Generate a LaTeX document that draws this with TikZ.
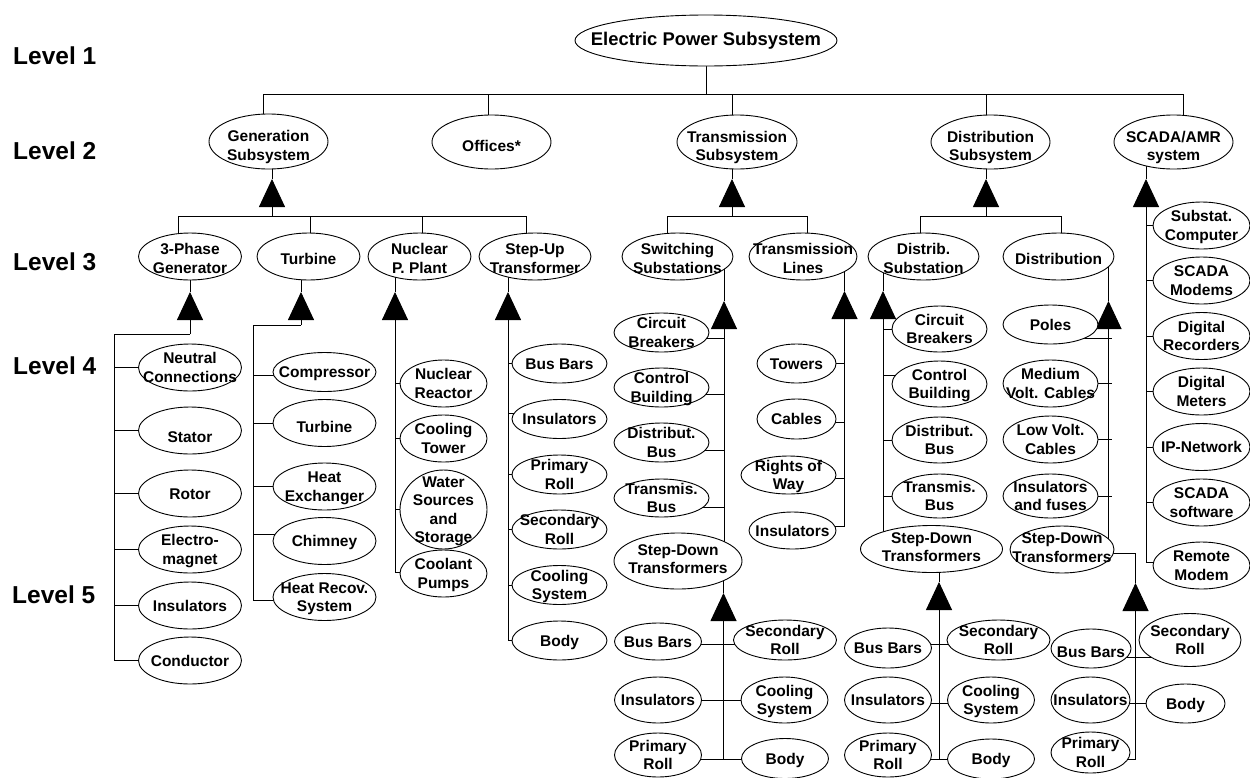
\documentclass[tikz,border=0pt]{standalone}
\usepackage{fontspec}
\setmainfont{Liberation Sans}
\usetikzlibrary{arrows.meta,shapes.geometric}
\pgfdeclarelayer{background}
\pgfsetlayers{background,main}

\newcommand\partfont{\bfseries\fontsize{15.5}{18.5}\selectfont}
\newcommand\topfont{\bfseries\fontsize{18.4}{22}\selectfont}
\newcommand\lvlfont{\bfseries\fontsize{24.5}{29}\selectfont}

% centred label of zero size, so the ellipse keeps its own size;
% optional argument lowers the text (pt)
\newsavebox\lblbox
\newcommand\ctext[2][2]{%
  \sbox\lblbox{\begin{tabular}{@{}c@{}}#2\end{tabular}}%
  \makebox[0pt]{\raisebox{\dimexpr(\dp\lblbox-\ht\lblbox)/2-#1pt\relax}[0pt][0pt]{\usebox\lblbox}}}

% \pn[text shift]{name}{x,y}{text}{width}{height}
\newcommand\pn[6][2]{\node[part={#5}{#6}] (#2) at (#3) {\ctext[#1]{#4}};}

\tikzset{
  conn/.style={draw=black, line width=0.9pt},
  part/.style 2 args={ellipse, draw=black, fill=white, line width=0.9pt,
    minimum width=#1, minimum height=#2, inner sep=0pt, font=\partfont},
  uptri/.style={-{Triangle[width=26pt,length=28pt]}},
  lvl/.style={anchor=west, inner sep=0pt, font=\lvlfont},
}

\begin{document}
\begin{tikzpicture}[x=1pt,y=-1pt]
\useasboundingbox (0,0) rectangle (1250,777);

% ---------- level captions ----------
\node[lvl] (lv1) at (13,55.5) {Level 1};
\node[lvl] (lv2) at (13,150.5) {Level 2};
\node[lvl] (lv3) at (13,262) {Level 3};
\node[lvl] (lv4) at (13,365.5) {Level 4};
\node[lvl] (lv5) at (12,594.5) {Level 5};

% ---------- level 1 and 2 ----------
\node[part={262}{51}, font=\topfont] (eps) at (706,40.5) {\ctext[0.5]{Electric Power Subsystem}};

\pn[6]{gen}{268.5,141.5}{Generation\\Subsystem}{119}{55}
\pn[6]{off}{491.5,142}{Offices*}{119}{54}
\pn[6]{trs}{737,142}{Transmission\\Subsystem}{120}{54}
\pn[6]{dis}{990.5,142}{Distribution\\Subsystem}{119}{54}
\pn[6]{scada}{1173.5,142}{SCADA/AMR\\system}{119}{54}

% ---------- level 3 ----------
\pn[4]{tp}{190,256.5}{3-Phase\\Generator}{103}{47}
\pn[4]{tu}{308.5,256.5}{Turbine}{103}{47}
\pn[4]{np}{419.5,256.5}{Nuclear\\P. Plant}{103}{47}
\pn[4]{su}{535,256.5}{Step-Up\\Transformer}{112}{47}
\pn[4]{sw}{677.5,256.5}{Switching\\Substations}{111}{47}
\pn[4]{tl}{803,256.5}{Transmission\\Lines}{108}{47}
\pn[4]{dsub}{923.5,256.5}{Distrib.\\Substation}{111}{47}
\pn[4]{dt}{1058.5,256.5}{Distribution}{111}{47}

% ---------- generator parts ----------
\pn{neut}{190,367.5}{Neutral\\Connections}{103}{47}
\pn[8]{stat}{190,430.5}{Stator}{103}{47}
\pn{roto}{190,493.5}{Rotor}{103}{47}
\pn{elec}{190,549.5}{Electro-\\magnet}{103}{47}
\pn{insA}{190,605.5}{Insulators}{103}{47}
\pn{cond}{190,660.5}{Conductor}{103}{47}

% ---------- turbine parts ----------
\pn{comp}{324.5,372}{Compressor}{103}{39}
\pn[6]{turb}{324.5,423}{Turbine}{103}{47}
\pn{hex}{324.5,486.5}{Heat\\Exchanger}{103}{47}
\pn{chim}{324.5,541}{Chimney}{103}{47}
\pn{hrs}{324.5,597}{Heat Recov.\\System}{103}{47}

% ---------- nuclear plant parts ----------
\pn{nrea}{443.5,383.5}{Nuclear\\Reactor}{87}{47}
\pn{ctow}{443.5,438.5}{Cooling\\Tower}{87}{47}
\pn{wss}{443.5,509.5}{Water\\Sources\\and\\Storage}{87}{79}
\pn{cpmp}{443.5,573.5}{Coolant\\Pumps}{87}{47}

% ---------- step-up transformer parts ----------
\pn{bbA}{559.5,363.5}{Bus Bars}{95}{39}
\pn{insB}{559.5,419}{Insulators}{95}{39}
\pn{prA}{559.5,474.5}{Primary\\Roll}{95}{39}
\pn{srA}{559.5,529.5}{Secondary\\Roll}{95}{39}
\pn{csA}{559.5,585}{Cooling\\System}{95}{39}
\pn{bodyA}{559.5,640.5}{Body}{95}{39}

% ---------- switching substation parts ----------
\pn{cbA}{661.5,332.5}{Circuit\\Breakers}{95}{39}
\pn{cbdA}{661.5,387.5}{Control\\Building}{95}{39}
\pn{dbA}{661.5,442.5}{Distribut.\\Bus}{95}{39}
\pn{tbA}{661.5,498}{Transmis.\\Bus}{95}{38}
\pn[0]{sdA}{678,561}{Step-Down\\Transformers}{128}{56}

\pn{bbB}{658,641.5}{Bus Bars}{87}{37}
\pn{srB}{785,640}{Secondary\\Roll}{103}{40}
\pn{insD}{658,700}{Insulators}{87}{46}
\pn{csB}{784.5,700}{Cooling\\System}{87}{46}
\pn{prB}{658,755}{Primary\\Roll}{87}{44}
\pn{bodyB}{785,758.5}{Body}{87}{40}

% ---------- transmission line parts ----------
\pn{towr}{796.5,363.5}{Towers}{79}{39}
\pn{cabl}{796.5,419}{Cables}{79}{40}
\pn{rowy}{788.5,475}{Rights of\\Way}{95}{38}
\pn{insC}{792.5,530.5}{Insulators}{87}{37}

% ---------- distribution substation parts ----------
\pn{cbB}{939.5,329}{Circuit\\Breakers}{95}{46}
\pn{cbdB}{939.5,384}{Control\\Building}{95}{46}
\pn{dbB}{939.5,440}{Distribut.\\Bus}{95}{46}
\pn{tbB}{939.5,496}{Transmis.\\Bus}{95}{44}
\pn[0]{sdB}{931.5,549}{Step-Down\\Transformers}{142}{47}

\pn{bbC}{888,648}{Bus Bars}{87}{40}
\pn{srC}{998.5,640}{Secondary\\Roll}{103}{40}
\pn{insE}{888,700}{Insulators}{87}{46}
\pn{csC}{991,700}{Cooling\\System}{87}{46}
\pn{prC}{888,755}{Primary\\Roll}{87}{44}
\pn{bodyC}{991,759}{Body}{87}{40}

% ---------- distribution parts ----------
\pn{pole}{1050.5,324.5}{Poles}{95}{39}
\pn{mvc}{1050.5,383.5}{Medium\\Volt. Cables}{95}{47}
\pn{lvc}{1050.5,439.5}{Low Volt.\\Cables}{95}{47}
\pn{inf}{1050.5,496}{Insulators\\and fuses}{95}{44}
\pn[0]{sdC}{1062,549.5}{Step-Down\\Transformers}{104}{47}

\pn[5]{bbD}{1091,648.5}{Bus Bars}{80}{39}
\pn{srD}{1190,640}{Secondary\\Roll}{102}{53}
\pn{insF}{1090.5,700}{Insulators}{79}{46}
\pn{bodyD}{1185.5,703.5}{Body}{79}{39}
\pn{prD}{1090.5,752.5}{Primary\\Roll}{79}{41}

% ---------- SCADA parts ----------
\pn{scmp}{1201.5,225.5}{Substat.\\Computer}{97}{47}
\pn{smod}{1201.5,280.5}{SCADA\\Modems}{97}{47}
\pn{drec}{1201.5,336}{Digital\\Recorders}{97}{47}
\pn{dmet}{1201.5,391.5}{Digital\\Meters}{97}{47}
\pn{ipn}{1201.5,447}{IP-Network}{97}{47}
\pn{ssw}{1201.5,502.5}{SCADA\\software}{97}{47}
\pn{rmod}{1201.5,565.5}{Remote\\Modem}{97}{47}

% ================= connectors =================
\begin{pgfonlayer}{background}
% level 1 -> level 2
\coordinate (barL) at (263,94);
\coordinate (barR) at (1183,94);
\draw[conn] (eps.center) -- (eps.center |- barL);
\draw[conn] (barL) -- (barR);
\foreach \n/\x in {gen/263,off/488,trs/732,dis/986,scada/1183}{
  \coordinate (top-\n) at (\x,94);
  \draw[conn] (top-\n) -- (top-\n |- \n.center);
}

% generation subsystem
\coordinate (genT) at (272,179);
\coordinate (genJ) at (272,216);
\draw[conn] (genT) -- (genT |- gen.center);
\draw[conn,uptri] (genJ) -- (genT);
\coordinate (genL) at (178,216);
\coordinate (genR) at (526,216);
\draw[conn] (genL) -- (genR);
\foreach \n/\x in {tp/178,tu/310,np/422,su/526}{
  \coordinate (g-\n) at (\x,216);
  \draw[conn] (g-\n) -- (g-\n |- \n.center);
}

% transmission subsystem
\coordinate (trsT) at (732,179);
\coordinate (trsJ) at (732,216);
\draw[conn] (trsT) -- (trsT |- trs.center);
\draw[conn,uptri] (trsJ) -- (trsT);
\coordinate (trsL) at (667,216);
\coordinate (trsR) at (807,216);
\draw[conn] (trsL) -- (trsR);
\draw[conn] (trsL) -- (trsL |- sw.center);
\draw[conn] (trsR) -- (trsR |- tl.center);

% distribution subsystem
\coordinate (disT) at (986,179);
\coordinate (disJ) at (986,216);
\draw[conn] (disT) -- (disT |- dis.center);
\draw[conn,uptri] (disJ) -- (disT);
\coordinate (disL) at (920,216);
\coordinate (disR) at (1061,216);
\draw[conn] (disL) -- (disR);
\draw[conn] (disL) -- (disL |- dsub.center);
\draw[conn] (disR) -- (disR |- dt.center);

% SCADA/AMR system
\coordinate (scT) at (1146,179);
\coordinate (scB) at (1146,562);
\draw[conn] (scT) -- (scT |- scada.center);
\draw[conn,uptri] (scB) -- (scT);
\foreach \n in {scmp,smod,drec,dmet,ipn,ssw}
  \draw[conn] (\n.center) -- (\n.center -| scT);
\draw[conn] (scB) -- (scB -| rmod.center);

% 3-phase generator
\coordinate (tpT) at (190,292);
\coordinate (tpJ) at (190,334);
\coordinate (tpL) at (114,334);
\draw[conn] (tpT) -- (tp.center);
\draw[conn,uptri] (tpJ) -- (tpT);
\draw[conn] (tpJ) -- (tpL) |- (cond.center);
\foreach \n in {neut,stat,roto,elec,insA}
  \draw[conn] (\n.center) -- (\n.center -| tpL);

% turbine
\coordinate (tuT) at (301,292);
\coordinate (tuJ) at (301,325);
\coordinate (tuL) at (253,325);
\draw[conn] (tuT) -- (tuT |- tu.center);
\draw[conn,uptri] (tuJ) -- (tuT);
\draw[conn] (tuJ) -- (tuL) |- ([yshift=-3pt]hrs.center);
\draw[conn] ([yshift=-3pt]comp.center) -- ([yshift=-3pt]comp.center -| tuL);
\draw[conn] (turb.center) -- (turb.center -| tuL);
\draw[conn] (hex.center) -- (hex.center -| tuL);
\draw[conn] ([yshift=7pt]chim.center) -- ([yshift=7pt]chim.center -| tuL);

% nuclear plant
\coordinate (npT) at (395,292);
\coordinate (npB) at (395,572);
\draw[conn] (npT) -- (npT |- np.center);
\draw[conn,uptri] (npB) -- (npT);
\draw[conn] (npB) -- (npB -| cpmp.center);
\foreach \n in {nrea,ctow,wss}
  \draw[conn] (\n.center) -- (\n.center -| npT);

% step-up transformer
\coordinate (suT) at (508,292);
\coordinate (suB) at (508,640);
\draw[conn] (suT) -- (suT |- su.center);
\draw[conn,uptri] (suB) -- (suT);
\draw[conn] (suB) -- (suB -| bodyA.center);
\foreach \n in {bbA,prA,srA,csA}
  \draw[conn] (\n.center) -- (\n.center -| suT);
\draw[conn] ([yshift=6pt]insB.center) -- ([yshift=6pt]insB.center -| suT);

% switching substations
\coordinate (swT) at (724,301);
\draw[conn] (swT) -- (swT |- sw.center);
\draw[conn,uptri] (swT |- sdA.center) -- (swT);
\draw[conn] ([yshift=-5.5pt]cbA.center) -- ([yshift=-5.5pt]cbA.center -| swT);
\draw[conn] ([yshift=-6.5pt]cbdA.center) -- ([yshift=-6.5pt]cbdA.center -| swT);
\draw[conn] ([yshift=-7.5pt]dbA.center) -- ([yshift=-7.5pt]dbA.center -| swT);
\draw[conn] ([yshift=-9pt]tbA.center) -- ([yshift=-9pt]tbA.center -| swT);

% step-down transformers of the switching substations
\coordinate (sdAT) at (723.5,593);
\coordinate (sdAB) at (723.5,759);
\coordinate (sdA1) at (723.5,644);
\coordinate (sdA2) at (723.5,700);
\draw[conn] (sdAT) -- (sdAT |- sdA.center);
\draw[conn,uptri] (sdAB) -- (sdAT);
\draw[conn] (bbB.center |- sdA1) -- (srB.center |- sdA1);
\draw[conn] (insD.center |- sdA2) -- (csB.center |- sdA2);
\draw[conn] (prB.center |- sdAB) -- (bodyB.center |- sdAB);

% transmission lines
\coordinate (tlT) at (844.5,291);
\coordinate (tlB) at (844.5,526);
\draw[conn] (tlT) -- (tlT |- tl.center);
\draw[conn,uptri] (tlB) -- (tlT);
\draw[conn] (tlB) -- (tlB -| insC.center);
\draw[conn] (towr.center) -- (towr.center -| tlT);
\draw[conn] ([yshift=-3pt]cabl.center) -- ([yshift=-3pt]cabl.center -| tlT);
\draw[conn] ([yshift=-3pt]rowy.center) -- ([yshift=-3pt]rowy.center -| tlT);

% distribution substation
\coordinate (dsT) at (883,291);
\draw[conn] (dsT) -- (dsT |- dsub.center);
\draw[conn,uptri] (dsT |- sdB.center) -- (dsT);
\foreach \n in {cbB,dbB,tbB}
  \draw[conn] (\n.center) -- (\n.center -| dsT);
\draw[conn] ([yshift=9pt]cbdB.center) -- ([yshift=9pt]cbdB.center -| dsT);

% step-down transformers of the distribution substation
\coordinate (sdBT) at (939,582);
\coordinate (sdBB) at (939,759);
\coordinate (sdB1) at (939,644);
\coordinate (sdB2) at (939,703);
\draw[conn] (sdBT) -- (sdBT |- sdB.center);
\draw[conn,uptri] (sdBB) -- (sdBT);
\draw[conn] (bbC.center |- sdB1) -- (srC.center |- sdB1);
\draw[conn] (insE.center |- sdB2) -- (csC.center |- sdB2);
\draw[conn] (prC.center |- sdBB) -- (bodyC.center |- sdBB);

% distribution
\coordinate (dtT) at (1108.5,301);
\coordinate (dtX) at (1112,301);
\draw[conn] (dtT) -- (dtT |- dt.center);
\draw[conn,uptri] (dtT |- sdC.center) -- (dtT);
\draw[conn] ([yshift=-13.5pt]pole.center) -- ([yshift=-13.5pt]pole.center -| dtX);
\foreach \n in {mvc,lvc,inf}
  \draw[conn] (\n.center) -- (\n.center -| dtX);

% step-down transformers of the distribution
\coordinate (sdCT) at (1135.5,583);
\coordinate (sdCB) at (1135.5,759);
\coordinate (sdC1) at (1135.5,657);
\coordinate (sdC2) at (1135.5,703);
\draw[conn] ([yshift=-3.5pt]sdC.center) -| (sdCT);
\draw[conn,uptri] (sdCB) -- (sdCT);
\draw[conn] (sdCB) -- (sdCB -| prD.center);
\draw[conn] (bbD.center |- sdC1) -- (srD.center |- sdC1);
\draw[conn] (insF.center |- sdC2) -- (bodyD.center |- sdC2);
\end{pgfonlayer}
\end{tikzpicture}
\end{document}
